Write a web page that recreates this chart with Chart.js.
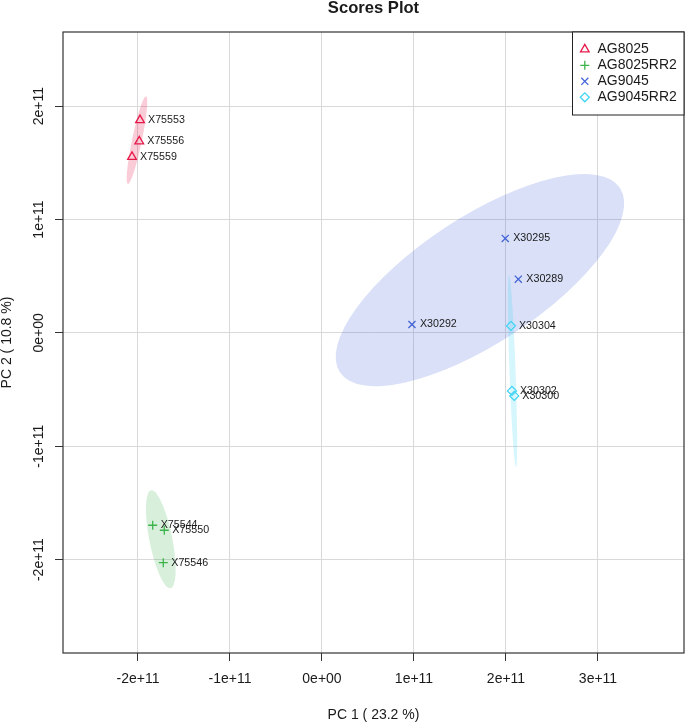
<!DOCTYPE html>
<html lang="en">
<head>
<meta charset="UTF-8">
<title>Scores Plot</title>
<style>
body {
    margin: 0;
    background: white;
}
#chart {
    display: block;
}
</style>
</head>
<body>
<canvas id="chart" width="685" height="722"></canvas>

<script src="https://cdn.jsdelivr.net/npm/chart.js"></script>
<script>
const FONT = '"Liberation Sans", Arial, Helvetica, sans-serif';

const groups = ['AG8025', 'AG8025RR2', 'AG9045', 'AG9045RR2'];
const groupColors = ['#E6194B', '#3CB44B', '#4363D8', '#42D4F4'];
const groupFills = ['rgba(230,25,75,0.22)', 'rgba(60,180,75,0.2)', 'rgba(67,99,216,0.2)', 'rgba(66,212,244,0.22)'];
const groupShapes = ['triangle', 'cross', 'crossRot', 'rectRot'];
const groupRadius = [5, 4.5, 5, 4.5];

// scores per group
const ag8025Names = ['X75553', 'X75556', 'X75559'];
const ag8025PC1 = [-1.978e11, -1.986e11, -2.065e11];
const ag8025PC2 = [1.877e11, 1.689e11, 1.553e11];

const ag8025rr2Names = ['X75544', 'X75550', 'X75546'];
const ag8025rr2PC1 = [-1.840e11, -1.714e11, -1.725e11];
const ag8025rr2PC2 = [-1.697e11, -1.741e11, -2.027e11];

const ag9045Names = ['X30295', 'X30289', 'X30292'];
const ag9045PC1 = [1.992e11, 2.134e11, 0.978e11];
const ag9045PC2 = [0.833e11, 0.474e11, 0.074e11];

const ag9045rr2Names = ['X30304', 'X30302', 'X30300'];
const ag9045rr2PC1 = [2.054e11, 2.065e11, 2.090e11];
const ag9045rr2PC2 = [0.062e11, -0.512e11, -0.556e11];

// confidence ellipses: centre, semi-axis to the tip, conjugate semi-axis
const ellipseCX = [-2.011e11, -1.752e11, 1.717e11, 2.071e11];
const ellipseCY = [1.700e11, -1.821e11, 0.465e11, -0.338e11];
const ellipseAX = [0.098e11, -0.100e11, 1.522e11, -0.038e11];
const ellipseAY = [0.388e11, 0.432e11, 0.812e11, 0.847e11];
const ellipseBX = [0.054e11, 0.127e11, 0.376e11, 0.033e11];
const ellipseBY = [0, 0, -0.465e11, 0];

const xTicks = [-2e11, -1e11, 0, 1e11, 2e11, 3e11];
const xTickLabels = ['-2e+11', '-1e+11', '0e+00', '1e+11', '2e+11', '3e+11'];
const yTicks = [-2e11, -1e11, 0, 1e11, 2e11];
const yTickLabels = ['-2e+11', '-1e+11', '0e+00', '1e+11', '2e+11'];
const xRange = [-2.815e11, 3.935e11];
const yRange = [-2.824e11, 2.654e11];

const names = [ag8025Names, ag8025rr2Names, ag9045Names, ag9045rr2Names];
const pc1 = [ag8025PC1, ag8025rr2PC1, ag9045PC1, ag9045rr2PC1];
const pc2 = [ag8025PC2, ag8025rr2PC2, ag9045PC2, ag9045rr2PC2];

const datasets = groups.map((g, i) => ({
    label: g,
    data: pc1[i].map((x, j) => ({x: x, y: pc2[i][j]})),
    pointStyle: groupShapes[i],
    pointRadius: groupRadius[i],
    pointHoverRadius: groupRadius[i],
    pointBorderColor: groupColors[i],
    pointBackgroundColor: 'rgba(0,0,0,0)',
    pointBorderWidth: 1.3,
    showLine: false
}));

const ellipsePlugin = {
    id: 'ellipses',
    beforeDatasetsDraw(chart) {
        const {ctx, chartArea, scales} = chart;
        const xs = scales.x, ys = scales.y;
        ctx.save();
        ctx.beginPath();
        ctx.rect(chartArea.left, chartArea.top, chartArea.right - chartArea.left, chartArea.bottom - chartArea.top);
        ctx.clip();
        for (let i = 0; i < groups.length; i++) {
            const cx = xs.getPixelForValue(ellipseCX[i]);
            const cy = ys.getPixelForValue(ellipseCY[i]);
            const ax = xs.getPixelForValue(ellipseCX[i] + ellipseAX[i]) - cx;
            const ay = ys.getPixelForValue(ellipseCY[i] + ellipseAY[i]) - cy;
            const bx = xs.getPixelForValue(ellipseCX[i] + ellipseBX[i]) - cx;
            const by = ys.getPixelForValue(ellipseCY[i] + ellipseBY[i]) - cy;
            ctx.beginPath();
            ctx.save();
            ctx.transform(ax, ay, bx, by, cx, cy);
            ctx.arc(0, 0, 1, 0, Math.PI * 2);
            ctx.restore();
            ctx.fillStyle = groupFills[i];
            ctx.fill();
        }
        ctx.restore();
    }
};

const decorPlugin = {
    id: 'decor',
    afterDatasetsDraw(chart) {
        const {ctx} = chart;
        ctx.save();
        ctx.font = '10.7px ' + FONT;
        ctx.fillStyle = '#1a1a1a';
        ctx.textAlign = 'left';
        ctx.textBaseline = 'middle';
        chart.data.datasets.forEach((ds, i) => {
            chart.getDatasetMeta(i).data.forEach((pt, j) => {
                ctx.fillText(names[i][j], pt.x + 8, pt.y);
            });
        });
        ctx.restore();
    },
    afterDraw(chart) {
        const {ctx, chartArea, scales} = chart;
        ctx.save();
        // frame
        ctx.strokeStyle = '#333';
        ctx.lineWidth = 1.2;
        ctx.strokeRect(chartArea.left, chartArea.top, chartArea.right - chartArea.left, chartArea.bottom - chartArea.top);

        // rotated y tick labels
        ctx.fillStyle = '#1a1a1a';
        ctx.font = '14px ' + FONT;
        ctx.textAlign = 'center';
        ctx.textBaseline = 'middle';
        yTicks.forEach((v, i) => {
            const y = scales.y.getPixelForValue(v);
            ctx.save();
            ctx.translate(chartArea.left - 23.5, y);
            ctx.rotate(-Math.PI / 2);
            ctx.fillText(yTickLabels[i], 0, 0);
            ctx.restore();
        });

        // title
        ctx.font = 'bold 16.6px ' + FONT;
        ctx.fillText('Scores Plot', (chartArea.left + chartArea.right) / 2, 8);

        // legend box
        const w = 111.5, h = 83;
        const lx = chartArea.right - w, ly = chartArea.top;
        ctx.fillStyle = 'white';
        ctx.fillRect(lx, ly, w, h);
        ctx.strokeStyle = '#222';
        ctx.lineWidth = 1;
        ctx.strokeRect(lx, ly, w, h);
        ctx.font = '14px ' + FONT;
        ctx.textAlign = 'left';
        chart.data.datasets.forEach((ds, i) => {
            const y = ly + 17.3 + i * 16;
            ctx.strokeStyle = groupColors[i];
            ctx.fillStyle = 'rgba(0,0,0,0)';
            ctx.lineWidth = 1.3;
            Chart.helpers.drawPoint(ctx, {
                pointStyle: ds.pointStyle,
                radius: ds.pointRadius,
                borderWidth: 1.3,
                rotation: 0
            }, lx + 12.3, y);
            ctx.fillStyle = '#1a1a1a';
            ctx.fillText(ds.label, lx + 25, y);
        });
        ctx.restore();
    }
};

new Chart(document.getElementById('chart'), {
    type: 'scatter',
    data: {datasets: datasets},
    options: {
        responsive: false,
        animation: false,
        events: [],
        layout: {autoPadding: false, padding: {top: 32, right: 1, left: 0, bottom: 0}},
        plugins: {
            legend: {display: false},
            tooltip: {enabled: false},
            title: {display: false}
        },
        scales: {
            x: {
                type: 'linear',
                position: 'bottom',
                min: xRange[0],
                max: xRange[1],
                afterBuildTicks: s => { s.ticks = xTicks.map(v => ({value: v})); },
                afterFit: s => { s.height = 69; },
                grid: {color: '#d9d9d9', tickColor: '#333', tickLength: 8, lineWidth: 1},
                border: {display: false},
                ticks: {
                    callback: (v, i) => xTickLabels[i],
                    font: {size: 14, family: FONT},
                    color: '#1a1a1a',
                    padding: 10,
                    maxRotation: 0,
                    autoSkip: false
                },
                title: {display: true, text: 'PC 1 ( 23.2 %)', font: {size: 14, family: FONT, lineHeight: 1}, color: '#1a1a1a', padding: 0}
            },
            y: {
                type: 'linear',
                min: yRange[0],
                max: yRange[1],
                afterBuildTicks: s => { s.ticks = yTicks.map(v => ({value: v})); },
                afterFit: s => { s.width = 63; },
                grid: {color: '#d9d9d9', tickColor: '#333', tickLength: 8, lineWidth: 1},
                border: {display: false},
                ticks: {display: false},
                title: {display: true, text: 'PC 2 ( 10.8 %)', font: {size: 14, family: FONT, lineHeight: 1}, color: '#1a1a1a', padding: 0}
            }
        }
    },
    plugins: [ellipsePlugin, decorPlugin]
});
</script>
</body>
</html>
